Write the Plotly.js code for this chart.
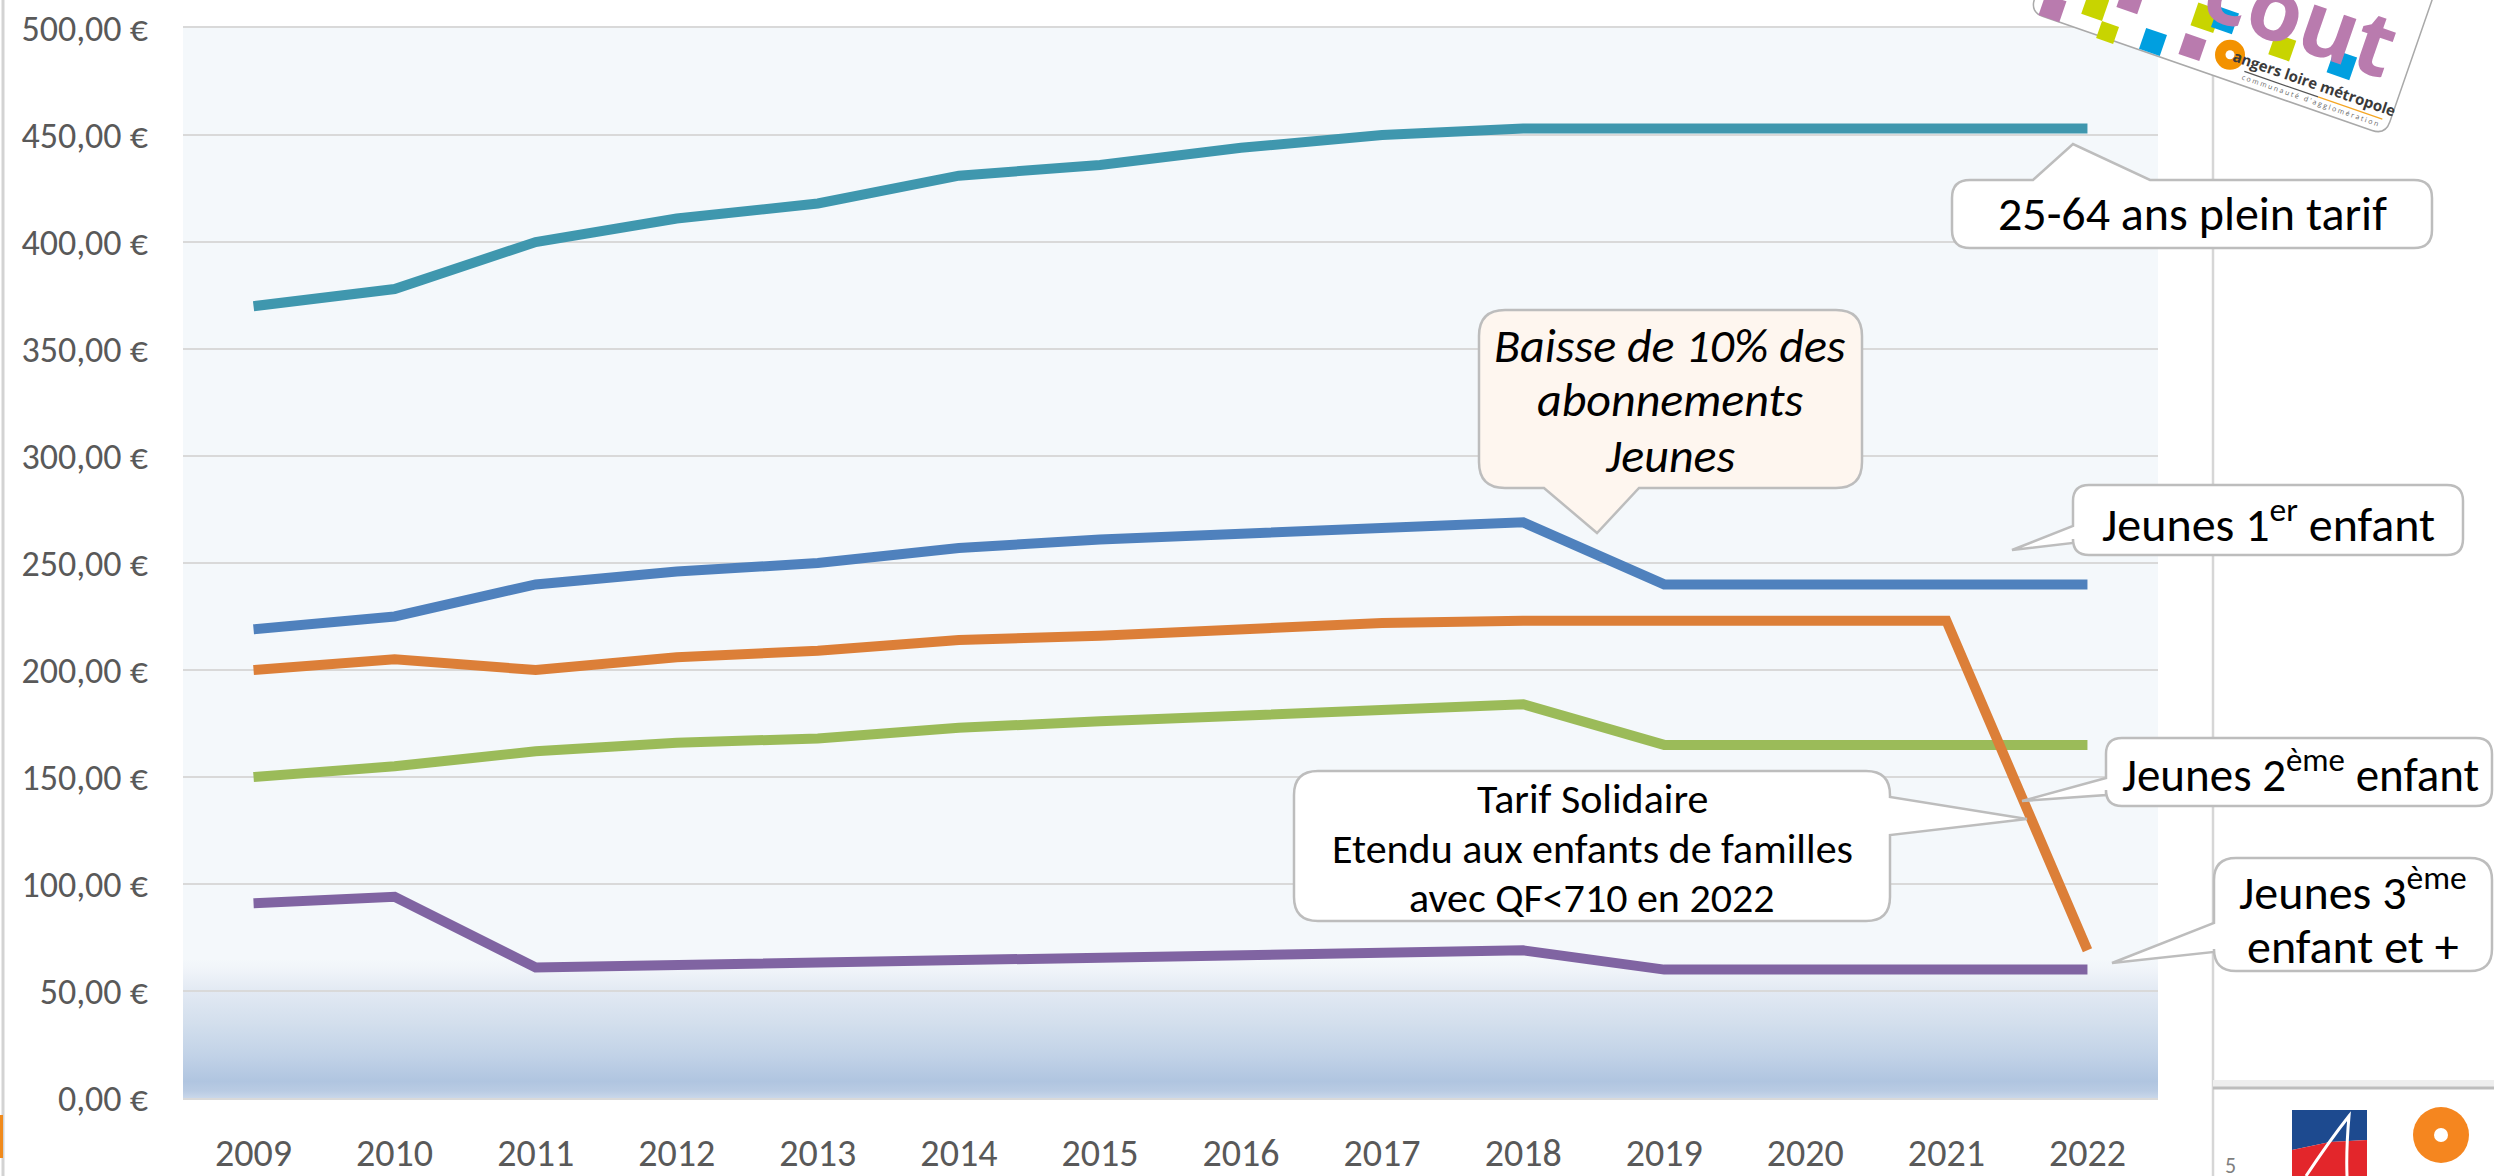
<!DOCTYPE html>
<html>
<head>
<meta charset="utf-8">
<script src="https://cdn.plot.ly/plotly-3.0.1.min.js"></script>
<style>
html,body{margin:0;padding:0;background:#ffffff;overflow:hidden;}
#chart{width:2494px;height:1176px;}
</style>
</head>
<body>
<div id="chart"></div>
<script>
// ---------------- DATA ----------------
const years = ['2009','2010','2011','2012','2013','2014','2015','2016','2017','2018','2019','2020','2021','2022'];
const pleinTarif2564 = [370, 378, 400, 411, 418, 431, 436, 444, 450, 453, 453, 453, 453, 453];
const jeunes1erEnfant = [219, 225, 240, 246, 250, 257, 261, 264, 267, 269, 240, 240, 240, 240];
const tarifSolidaire = [200, 205, 200, 206, 209, 214, 216, 219, 222, 223, 223, 223, 223, 69];
const jeunes2emeEnfant = [150, 155, 162, 166, 168, 173, 176, 179, 182, 184, 165, 165, 165, 165];
const jeunes3emeEnfant = [91, 94, 61, 62, 63, 64.5, 65.5, 67, 68, 69, 60, 60, 60, 60];
const yTickVals = [0, 50, 100, 150, 200, 250, 300, 350, 400, 450, 500];
const yTickText = ['0,00 €','50,00 €','100,00 €','150,00 €','200,00 €','250,00 €','300,00 €','350,00 €','400,00 €','450,00 €','500,00 €'];

// ---------------- STYLE / GEOMETRY ----------------
const FONT = "Carlito, Lato, 'Open Sans', sans-serif";
const L = 183, R = 2158, T = 28, B = 1098;
function px(x){ return (x - L) / (R - L); }
function py(y){ return (B - y) / (B - T); }
function P(x, y){ return px(x).toFixed(5) + ',' + py(y).toFixed(5); }

function calloutPath(x0, y0, x1, y1, r, w){
  let s = 'M' + P(x0 + r, y0);
  if (w && w.side === 'top') s += ' L' + P(w.a, y0) + ' L' + P(w.tx, w.ty) + ' L' + P(w.b, y0);
  s += ' L' + P(x1 - r, y0) + ' Q' + P(x1, y0) + ' ' + P(x1, y0 + r);
  if (w && w.side === 'right') s += ' L' + P(x1, w.a) + ' L' + P(w.tx, w.ty) + ' L' + P(x1, w.b);
  s += ' L' + P(x1, y1 - r) + ' Q' + P(x1, y1) + ' ' + P(x1 - r, y1);
  if (w && w.side === 'bottom') s += ' L' + P(w.b, y1) + ' L' + P(w.tx, w.ty) + ' L' + P(w.a, y1);
  s += ' L' + P(x0 + r, y1) + ' Q' + P(x0, y1) + ' ' + P(x0, y1 - r);
  if (w && w.side === 'left') s += ' L' + P(x0, w.b) + ' L' + P(w.tx, w.ty) + ' L' + P(x0, w.a);
  s += ' L' + P(x0, y0 + r) + ' Q' + P(x0, y0) + ' ' + P(x0 + r, y0) + ' Z';
  return s;
}
const boxLine = {color: '#bdbdbd', width: 2.5};
function callout(x0, y0, x1, y1, r, w, fill){
  return {type: 'path', xref: 'paper', yref: 'paper', layer: 'above',
    path: calloutPath(x0, y0, x1, y1, r, w), fillcolor: fill || '#ffffff', line: boxLine};
}
function textAt(x, y, text, size, extra){
  return Object.assign({xref: 'paper', yref: 'paper', x: px(x), y: py(y), xanchor: 'center', yanchor: 'middle',
    showarrow: false, align: 'center', text: text,
    font: {family: FONT, size: size, color: '#000000'}}, extra || {});
}
function circle(cx, cy, r, fill){
  return {type: 'circle', xref: 'paper', yref: 'paper', layer: 'above',
    x0: px(cx - r), x1: px(cx + r), y0: py(cy + r), y1: py(cy - r), fillcolor: fill, line: {width: 0}};
}
function poly(pts, fill, line){
  let s = 'M' + pts.map(p => P(p[0], p[1])).join(' L') + ' Z';
  return {type: 'path', xref: 'paper', yref: 'paper', layer: 'above', path: s, fillcolor: fill,
    line: line || {width: 0}};
}
function seg(x0, y0, x1, y1, color, width){
  return {type: 'line', xref: 'paper', yref: 'paper', layer: 'above',
    x0: px(x0), y0: py(y0), x1: px(x1), y1: py(y1), line: {color: color, width: width}};
}

// Card logo (rotated) helpers
const th = 19.1 * Math.PI / 180, cT = Math.cos(th), sT = Math.sin(th);
const cardBL = [2030, 12];
function cp(u, v){ return [cardBL[0] + u * cT + v * sT, cardBL[1] + u * sT - v * cT]; }
function cardPath(){
  const Wc = 376, Hc = 260, r = 14;
  let s = 'M' + P(...cp(r, 0)) + ' L' + P(...cp(Wc - r, 0)) + ' Q' + P(...cp(Wc, 0)) + ' ' + P(...cp(Wc, r)) +
    ' L' + P(...cp(Wc, Hc)) + ' L' + P(...cp(0, Hc)) + ' L' + P(...cp(0, r)) + ' Q' + P(...cp(0, 0)) + ' ' + P(...cp(r, 0)) + ' Z';
  return {type: 'path', xref: 'paper', yref: 'paper', layer: 'above', path: s, fillcolor: '#ffffff',
    line: {color: '#a9a9a9', width: 1.5}};
}
function cardSquare(u, v, sz, fill){
  const h = sz / 2;
  return poly([cp(u - h, v - h), cp(u + h, v - h), cp(u + h, v + h), cp(u - h, v + h)], fill);
}
const LIME = '#c8d400', CYAN = '#009fe0', MAUVE = '#b97bae';

// ---------------- TRACES ----------------
function lineTrace(name, y, color){
  return {type: 'scatter', mode: 'lines', name: name, x: years, y: y,
    line: {color: color, width: 10, shape: 'linear'}, hoverinfo: 'skip', showlegend: false};
}
const data = [
  lineTrace('25-64 ans plein tarif', pleinTarif2564, '#3f97ae'),
  lineTrace('Jeunes 1er enfant', jeunes1erEnfant, '#4f81bd'),
  lineTrace('Jeunes 2ème enfant', jeunes2emeEnfant, '#9bbb59'),
  lineTrace('Jeunes 3ème enfant et +', jeunes3emeEnfant, '#8064a2'),
  lineTrace('Tarif Solidaire', tarifSolidaire, '#dc7f38')
];

// ---------------- BACKGROUND GRADIENT ----------------
const gradSvg = "<svg xmlns='http://www.w3.org/2000/svg' width='10' height='100' viewBox='0 0 10 100' preserveAspectRatio='none'>" +
  "<defs><linearGradient id='g' x1='0' y1='0' x2='0' y2='1'>" +
  "<stop offset='0' stop-color='#f4f8fb'/>" +
  "<stop offset='0.08' stop-color='#f0f4f9'/>" +
  "<stop offset='0.23' stop-color='#e2e9f3'/>" +
  "<stop offset='0.46' stop-color='#d3dfed'/>" +
  "<stop offset='0.70' stop-color='#c1d2e7'/>" +
  "<stop offset='0.88' stop-color='#b0c5e0'/>" +
  "<stop offset='0.95' stop-color='#b9cbe3'/>" +
  "<stop offset='1' stop-color='#c9d7ea'/>" +
  "</linearGradient></defs><rect x='0' y='0' width='10' height='100' fill='url(#g)'/></svg>";

// ---------------- SHAPES ----------------
const shapes = [
  // slide decorations
  seg(3, 0, 3, 1176, '#d3d3d3', 3),
  seg(1.5, 1115, 1.5, 1158, '#f08a1c', 3),
  seg(2213, 0, 2213, 1176, '#d6d6d6', 2.5),
  {type: 'rect', xref: 'paper', yref: 'paper', layer: 'above', x0: px(2213), x1: px(2494), y0: py(1088), y1: py(1080), fillcolor: '#eeeeee', line: {width: 0}},
  seg(2213, 1088, 2494, 1088, '#bdbdbd', 3),

  // callouts
  callout(1479, 310, 1862, 488, 26, {side: 'bottom', a: 1544, b: 1639, tx: 1597, ty: 533}, '#fef6ef'),
  callout(1952, 180, 2432, 248, 18, {side: 'top', a: 2033, b: 2150, tx: 2073, ty: 144}),
  callout(2073, 485, 2463, 555, 16, {side: 'left', a: 526, b: 543, tx: 2012, ty: 550}),
  callout(1294, 771, 1890, 921, 24, {side: 'right', a: 797, b: 835, tx: 2027, ty: 819}),
  callout(2106, 738, 2492, 806, 16, {side: 'left', a: 778, b: 795, tx: 2022, ty: 801}),
  callout(2214, 858, 2492, 971, 22, {side: 'left', a: 923, b: 952, tx: 2112, ty: 963}),

  // card logo (top right)
  cardPath(),
  cardSquare(20, 11, 22, MAUVE),
  cardSquare(60, 26, 22, LIME),
  cardSquare(91, 44, 22, MAUVE),
  cardSquare(80, 6, 18, LIME),
  cardSquare(126, 12, 22, CYAN),
  cardSquare(165, 20, 22, MAUVE),
  cardSquare(168, 52, 24, LIME),
  cardSquare(187, 56, 22, CYAN),
  cardSquare(250, 49, 22, LIME),
  cardSquare(312, 52, 24, CYAN),
  circle(...cp(203, 25), 15, '#f39200'),
  circle(...cp(203, 25), 4.5, '#ffffff'),
  seg(...cp(222, 14), ...cp(300, 14), '#555555', 1.2),
  seg(...cp(300, 14), ...cp(368, 14), '#f5a623', 1.2),

  // bottom-right logos
  poly([[2292, 1110], [2367, 1110], [2367, 1140], [2330, 1142], [2292, 1150]], '#1d4a8f'),
  poly([[2292, 1150], [2330, 1142], [2367, 1140], [2367, 1176], [2292, 1176]], '#e3262b'),
  {type: 'path', xref: 'paper', yref: 'paper', layer: 'above',
   path: 'M' + P(2306, 1176) + ' Q' + P(2330, 1140) + ' ' + P(2349, 1116) + ' Q' + P(2346, 1150) + ' ' + P(2347, 1176),
   line: {color: '#ffffff', width: 3}},
  circle(2441, 1135, 28, '#f5861f'),
  circle(2441, 1135, 7, '#ffffff')
];

// ---------------- ANNOTATIONS ----------------
const italic = {family: FONT, size: 48, color: '#000000', style: 'italic'};
const annotations = [
  textAt(1670, 345, 'Baisse de 10% des', 48, {font: italic}),
  textAt(1670, 400, 'abonnements', 48, {font: italic}),
  textAt(1670, 455, 'Jeunes', 48, {font: italic}),
  textAt(2192, 214, '25-64 ans plein tarif', 48),
  textAt(2268, 521, 'Jeunes 1<sup>er</sup> enfant', 48),
  textAt(1592, 798, 'Tarif Solidaire', 42),
  textAt(1592, 848, 'Etendu aux enfants de familles', 42),
  textAt(1592, 897, 'avec QF&lt;710 en 2022', 42),
  textAt(2300, 772, 'Jeunes 2<sup>ème</sup> enfant', 47),
  textAt(2353, 889, 'Jeunes 3<sup>ème</sup>', 48),
  textAt(2353, 946, 'enfant et +', 48),
  // card texts
  (function(){ const c = cp(258, 86); return textAt(c[0], c[1], '<b>cout</b>', 88,
    {textangle: 19.1, font: {family: "'Open Sans', Lato, sans-serif", size: 88, color: MAUVE, weight: 800}}); })(),
  (function(){ const c = cp(292, 26); return textAt(c[0], c[1], '<b>angers loire métropole</b>', 15,
    {textangle: 19.1, font: {family: "'Open Sans', sans-serif", size: 15, color: '#3a3a3a'}}); })(),
  (function(){ const c = cp(294, 8); return textAt(c[0], c[1], 'c o m m u n a u t é   d \' a g g l o m é r a t i o n', 7,
    {textangle: 19.1, font: {family: "'Open Sans', sans-serif", size: 7, color: '#666666'}}); })(),
  // page number and logo caption
  textAt(2230, 1165, '5', 22, {font: {family: FONT, size: 22, color: '#7f7f7f'}}),
  textAt(2442, 1186, 'angers  loire', 20, {font: {family: "'Open Sans', sans-serif", size: 20, color: '#333333'}})
];

// ---------------- LAYOUT ----------------
const layout = {
  width: 2494, height: 1176,
  margin: {l: L, r: 2494 - R, t: T, b: 1176 - B, pad: 0},
  paper_bgcolor: '#ffffff',
  plot_bgcolor: '#f4f8fb',
  showlegend: false,
  font: {family: FONT, color: '#595959'},
  xaxis: {
    type: 'category', range: [-0.5, 13.5], fixedrange: true,
    showgrid: false, zeroline: false,
    showline: true, mirror: true, linecolor: '#d9d9d9', linewidth: 2,
    ticks: '', ticklabelstandoff: 20,
    tickfont: {family: FONT, size: 38, color: '#595959'}
  },
  yaxis: {
    range: [0, 500], fixedrange: true,
    tickmode: 'array', tickvals: yTickVals, ticktext: yTickText,
    showgrid: true, gridcolor: '#d9d9d9', gridwidth: 2,
    zeroline: false, showline: false,
    ticks: '', ticklabelstandoff: 34,
    tickfont: {family: FONT, size: 36, color: '#595959'}
  },
  images: [{
    source: 'data:image/svg+xml;charset=utf-8,' + encodeURIComponent(gradSvg),
    xref: 'paper', yref: 'y', x: 0, y: 65, sizex: 1, sizey: 65,
    xanchor: 'left', yanchor: 'top', sizing: 'stretch', layer: 'below'
  }],
  shapes: shapes,
  annotations: annotations
};

Plotly.newPlot('chart', data, layout, {displayModeBar: false, staticPlot: true});
</script>
</body>
</html>
